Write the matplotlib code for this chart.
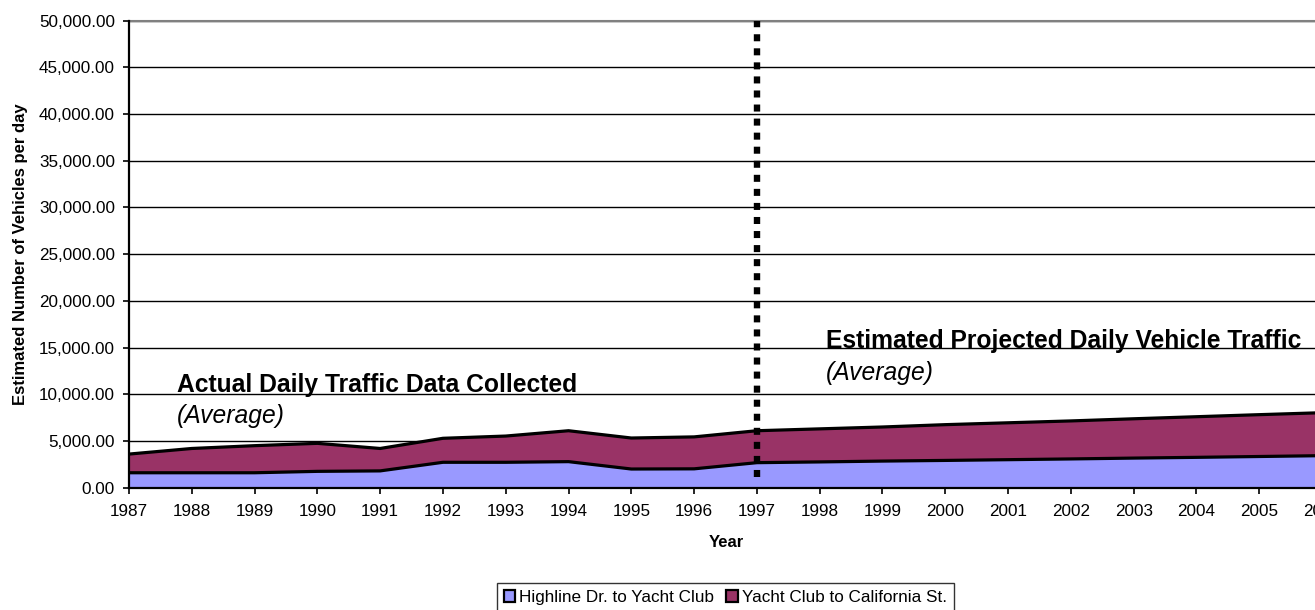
import numpy as np
import matplotlib.pyplot as plt
from matplotlib.patches import Patch

plt.rcParams['font.family'] = ['Liberation Sans', 'DejaVu Sans']

# --- data ---
years = [1987, 1988, 1989, 1990, 1991, 1992, 1993, 1994, 1995, 1996,
         1997, 1998, 1999, 2000, 2001, 2002, 2003, 2004, 2005, 2006]
highline = [1600, 1600, 1600, 1750, 1800, 2720, 2720, 2790, 2000, 2020,
            2680, 2760, 2850, 2920, 3000, 3080, 3170, 3250, 3340, 3430]
total = [3600, 4200, 4500, 4750, 4200, 5290, 5530, 6100, 5320, 5440,
         6100, 6300, 6500, 6750, 6950, 7150, 7380, 7600, 7820, 8030]
yacht = [t - h for t, h in zip(total, highline)]

series_names = ["Highline Dr. to Yacht Club", "Yacht Club to California St."]
colors = ["#9999FF", "#993366"]
y_ticks = np.arange(0, 50001, 5000)

fig = plt.figure(figsize=(13.15, 6.10), dpi=100)
# axes runs a little past the right edge, like the cropped original
ax = fig.add_axes([129/1315, 1 - 487.7/610, (1322 - 129)/1315, (487.7 - 20.7)/610])

x = np.array(years)
low = np.array(highline)
top = low + np.array(yacht)
ax.fill_between(x, 0, low, color=colors[0], lw=0, zorder=2)
ax.fill_between(x, low, top, color=colors[1], lw=0, zorder=2)
ax.plot(x, low, color="black", lw=2.3, zorder=3, solid_joinstyle="miter")
ax.plot(x, top, color="black", lw=2.3, zorder=3, solid_joinstyle="miter")

# divider between actual and projected
ax.vlines(1997, 1150, 50000, colors="black", lw=4.6, linestyles=(0, (1.1, 1.1)),
          zorder=4, capstyle="butt")

ax.set_xlim(years[0], years[-1])
ax.set_ylim(0, 50000)
ax.set_xticks(years)
ax.set_xticklabels([str(y) for y in years])
ax.set_yticks(y_ticks)
ax.set_yticklabels([f"{v:,.2f}" for v in y_ticks])
ax.yaxis.grid(True, color="black", lw=1.0, zorder=1)
ax.set_axisbelow(True)
ax.tick_params(axis="both", labelsize=12.3, direction="out", length=4, width=1.2, color="black")
ax.tick_params(axis="y", pad=6)
ax.tick_params(axis="x", pad=8)

for s in ["left", "bottom"]:
    ax.spines[s].set_color("black")
    ax.spines[s].set_linewidth(1.6)
    ax.spines[s].set_zorder(5)
ax.spines["top"].set_color("#808080")
ax.spines["top"].set_linewidth(1.5)
ax.spines["right"].set_visible(False)

# annotations
ax.text(1987.76, 10280, "Actual Daily Traffic Data Collected", fontsize=17.7,
        fontweight="bold", va="baseline", ha="left", zorder=6)
ax.text(1987.76, 6930, "(Average)", fontsize=17.7, style="italic",
        va="baseline", ha="left", zorder=6)
ax.text(1998.1, 14950, "Estimated Projected Daily Vehicle Traffic", fontsize=17.7,
        fontweight="bold", va="baseline", ha="left", zorder=6)
ax.text(1998.1, 11530, "(Average)", fontsize=17.7, style="italic",
        va="baseline", ha="left", zorder=6)

fig.text(21/1315, 1 - 254/610, "Estimated Number of Vehicles per day", rotation=90,
         fontsize=12, fontweight="bold", ha="center", va="center")
fig.text(726.7/1315, 1 - 542.3/610, "Year", fontsize=12, fontweight="bold",
         ha="center", va="center")

handles = [Patch(facecolor=c, edgecolor="black", lw=1.6) for c in colors]
leg = fig.legend(handles, series_names, loc="upper left",
                 bbox_to_anchor=(497/1315, 1 - 583/610), ncol=2, fontsize=12.3,
                 frameon=True, fancybox=False, shadow=False, borderaxespad=0,
                 handlelength=0.66, handleheight=0.66, handletextpad=0.25,
                 columnspacing=0.7, borderpad=0.4)
leg.get_frame().set_edgecolor("black")
leg.get_frame().set_linewidth(1.0)

fig.savefig("out.png", dpi=100)
